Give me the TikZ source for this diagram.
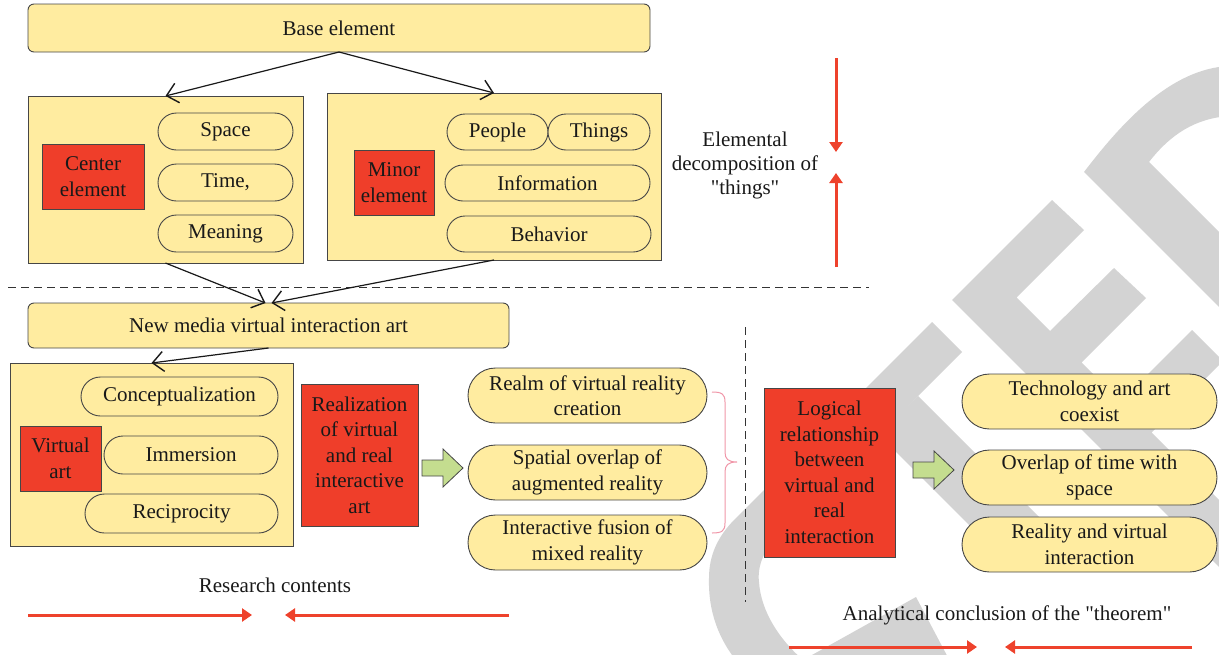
\documentclass[tikz,border=0pt]{standalone}
\usepackage{fontspec}
\setmainfont{Liberation Serif}[Ligatures=TeXOff]
\usetikzlibrary{arrows.meta,shapes.misc,calc}
\definecolor{boxfill}{RGB}{255,236,160}
\definecolor{boxline}{RGB}{70,70,70}
\definecolor{redfill}{RGB}{239,62,42}
\definecolor{redarrow}{RGB}{238,66,44}
\definecolor{greenfill}{RGB}{196,221,143}
\definecolor{bracepink}{RGB}{240,150,168}
\definecolor{markgray}{RGB}{211,211,211}
\definecolor{txt}{RGB}{25,25,25}
\begin{document}
\begin{tikzpicture}[x=1pt,y=-1pt,
  every node/.style={inner sep=0pt, outer sep=0pt, text=txt,
    font=\fontsize{21}{25.5}\selectfont, align=center},
  ybox/.style={draw=boxline, line width=0.9pt, fill=boxfill},
  pill/.style={ybox, rounded rectangle},
  redbox/.style={draw=boxline, line width=0.9pt, fill=redfill},
  blk/.style={draw=black!90, line width=1.2pt, -{Straight Barb[length=11pt,width=20pt,line width=1.4pt]}},
  redarr/.style={draw=redarrow, line width=3pt, -{Triangle[length=10pt,width=13pt]}},
  greenarr/.style={draw=boxline, line width=0.8pt, fill=greenfill},
  divider/.style={draw=black!80, line width=1pt, dash pattern=on 8pt off 5pt},
  plaintext/.style={font=\fontsize{21}{24}\selectfont}
]
\useasboundingbox (0,0) rectangle (1219,654);

% background logo mark
\begin{scope}
\clip (0,0) rectangle (1219,654);
\fill[markgray] (932,322) -- (962,352) -- (777,537)
  .. controls (765,549) and (757,565) .. (759,582)
  .. controls (761,612) and (780,640) .. (803,660)
  -- (916,597) -- (952,665) -- (740,665)
  .. controls (718,640) and (708,610) .. (709,578)
  .. controls (709,555) and (718,536) .. (735,519) -- cycle;
\fill[markgray] (918,396) -- (1055,533) -- (1016,572) -- (878,434) -- cycle;
\fill[markgray] (952,300) -- (1052,200) -- (1084,230) -- (1016.5,297.5)
  -- (1050,331) -- (1114,268) -- (1146,298) -- (1081.5,362.5)
  -- (1120.5,401.5) -- (1192,330) -- (1223,361) -- (1151.5,432.5)
  -- (1240,521) -- (1240,588) -- cycle;
\fill[markgray] (1230,66) .. controls (1170,68) and (1120,125) .. (1084,172)
  -- (1240,328) -- (1240,253) -- (1149,162)
  .. controls (1170,135) and (1195,118) .. (1230,116) -- cycle;
\end{scope}

% upper half: decomposition of the base element
\node[ybox, rounded corners=6pt, minimum width=622pt, minimum height=48pt] (base) at (339,28) {Base element};

\node[ybox, minimum width=275pt, minimum height=167pt] (cbox) at (165.5,179.5) {};
\node[redbox, minimum width=102pt, minimum height=65pt] (cel) at (93,176.5) {Center\\element};
\node[pill, minimum width=135pt, minimum height=37pt] (space) at (225.5,131.5) {Space};
\node[pill, minimum width=135pt, minimum height=37pt] (time) at (225.5,182.5) {Time,};
\node[pill, minimum width=135pt, minimum height=37pt] (meaning) at (225.5,233.5) {Meaning};

\node[ybox, minimum width=334pt, minimum height=167pt] (mbox) at (494,176.5) {};
\node[redbox, minimum width=80pt, minimum height=65pt] (mel) at (394,182.5) {Minor\\element};
\node[pill, minimum width=101pt, minimum height=36pt] (people) at (497.5,132) {People};
\node[pill, minimum width=102pt, minimum height=36pt] (things) at (599,132) {Things};
\node[pill, minimum width=205pt, minimum height=36pt] (info) at (547.5,183) {Information};
\node[pill, minimum width=204pt, minimum height=36pt] (behavior) at (549,234) {Behavior};

\draw[blk] (base.south) -- (cbox.north);
\draw[blk] (base.south) -- (mbox.north);

\node[plaintext] (elem) at (745,165) {Elemental\\decomposition of\\"things"};
\coordinate (eTop) at (836,58);
\coordinate (eTopTip) at (836,152);
\coordinate (eBot) at (836,267);
\coordinate (eBotTip) at (836,173);
\draw[redarr] (eTop) -- (eTopTip);
\draw[redarr] (eBot) -- (eBotTip);

\coordinate (hdivL) at (8,287);
\coordinate (hdivR) at (869,287);
\draw[divider] (hdivL) -- (hdivR);

% lower half: research contents
\node[ybox, rounded corners=6pt, minimum width=481pt, minimum height=45pt] (newmedia) at (268.5,325.5) {New media virtual interaction art};
\draw[blk] (cbox.south) -- ([xshift=-3pt]newmedia.north);
\draw[blk] (mbox.south) -- ([xshift=3pt]newmedia.north);

\node[ybox, minimum width=283pt, minimum height=183pt] (vbox) at (151.5,454.5) {};
\draw[blk] (newmedia.south) -- (vbox.north);
\node[redbox, minimum width=81pt, minimum height=65pt] (vart) at (60.5,458.5) {Virtual\\art};
\node[pill, minimum width=197pt, minimum height=39pt] (concept) at (179.5,396.5) {Conceptualization};
\node[pill, minimum width=174pt, minimum height=38pt] (immersion) at (191,455) {Immersion};
\node[pill, minimum width=193pt, minimum height=39pt] (recip) at (181.5,513.5) {Reciprocity};

\node[redbox, minimum width=117pt, minimum height=142pt] (realiz) at (359.5,455) {Realization\\of virtual\\and real\\interactive\\art};

\coordinate (gA) at (422,468);
\draw[greenarr] (gA) ++(0,-8) -- ++(21,0) -- ++(0,-11) -- ++(20,19) -- ++(-20,19) -- ++(0,-11) -- ++(-21,0) -- cycle;

\node[pill, minimum width=239pt, minimum height=55pt] (realm) at (587.5,395.5) {Realm of virtual reality\\creation};
\node[pill, minimum width=239pt, minimum height=55pt] (spatial) at (587.5,472.5) {Spatial overlap of\\augmented reality};
\node[pill, minimum width=239pt, minimum height=55pt] (fusion) at (587.5,542.5) {Interactive fusion of\\mixed reality};

\coordinate (brTop) at (712,392);
\coordinate (brTip) at (737,462);
\coordinate (brBot) at (712,533);
\draw[bracepink, line width=1pt] (brTop) .. controls (722,392) and (725,394) .. (725,402)
  -- (725,452) .. controls (725,459) and (728,462) .. (brTip)
  .. controls (728,462) and (725,465) .. (725,472)
  -- (725,523) .. controls (725,531) and (722,533) .. (brBot);

\node[plaintext] (research) at (275,585) {Research contents};
\coordinate (rL) at (28,615);
\coordinate (rLTip) at (252,615);
\coordinate (rR) at (509,615);
\coordinate (rRTip) at (285,615);
\draw[redarr] (rL) -- (rLTip);
\draw[redarr] (rR) -- (rRTip);

% right part: conclusion
\coordinate (vdivT) at (745,327);
\coordinate (vdivB) at (745,602);
\draw[divider] (vdivT) -- (vdivB);

\node[redbox, minimum width=131pt, minimum height=169pt] (logical) at (829.5,472.5) {Logical\\relationship\\between\\virtual and\\real\\interaction};

\coordinate (gB) at (913,470);
\draw[greenarr] (gB) ++(0,-8) -- ++(21,0) -- ++(0,-11) -- ++(20,19) -- ++(-20,19) -- ++(0,-11) -- ++(-21,0) -- cycle;

\node[pill, minimum width=255pt, minimum height=55pt] (tech) at (1089.5,401.5) {Technology and art\\coexist};
\node[pill, minimum width=255pt, minimum height=55pt] (overlap) at (1089.5,477.5) {Overlap of time with\\space};
\node[pill, minimum width=255pt, minimum height=55pt] (reality) at (1089.5,544.5) {Reality and virtual\\interaction};

\node[plaintext] (analytic) at (1007,615) {Analytical conclusion of the "theorem"};
\coordinate (aL) at (789,647);
\coordinate (aLTip) at (977,647);
\coordinate (aR) at (1192,647);
\coordinate (aRTip) at (1005,647);
\draw[redarr] (aL) -- (aLTip);
\draw[redarr] (aR) -- (aRTip);
\end{tikzpicture}
\end{document}
